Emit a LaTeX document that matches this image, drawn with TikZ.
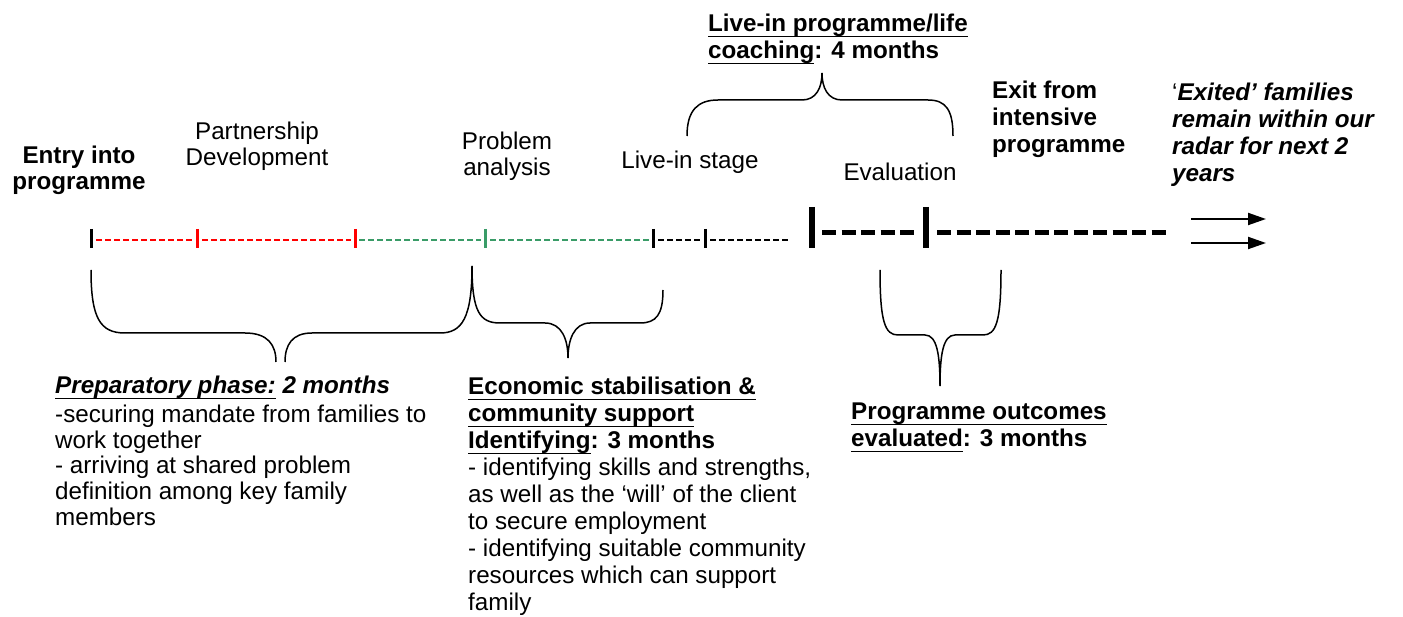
\documentclass[tikz,border=0pt]{standalone}
\usepackage{fontspec}
\setmainfont{Liberation Sans}
\usetikzlibrary{arrows.meta}
\definecolor{tlred}{RGB}{255,0,0}
\definecolor{tlgreen}{RGB}{58,156,104}
\newsavebox{\ulbox}
\newcommand{\myul}[1]{\sbox{\ulbox}{#1}\rlap{\rule[-5.5pt]{\wd\ulbox}{1.6pt}}\usebox{\ulbox}}
\begin{document}
\begin{tikzpicture}[x=1pt,y=-1pt,
 txt/.style={inner sep=0pt, anchor=north west, align=left, font=\fontsize{24.2}{27}\selectfont},
 ctxt/.style={inner sep=0pt, anchor=north, align=center, font=\fontsize{24.2}{26}\selectfont},
 thinline/.style={line width=2.5pt, dash pattern=on 6pt off 3pt},
 tickmark/.style={line width=3pt},
 thickline/.style={line width=5pt, dash pattern=on 14pt off 5.5pt},
 bigtick/.style={line width=5.5pt},
 brace/.style={line width=1.5pt},
 arr/.style={line width=2pt, -{Triangle[length=18pt,width=12pt]}}]
\useasboundingbox (0,0) rectangle (1403,617);

% ---------- timeline (thin part) ----------
\coordinate (t0) at (91,240);
\coordinate (t1) at (197,240);
\coordinate (t2) at (355,240);
\coordinate (t3) at (485,240);
\coordinate (t4) at (653,240);
\coordinate (t5) at (705,240);
\draw[tickmark] (91,229) -- (91,248);
\draw[tickmark,tlred] (197,229) -- (197,248);
\draw[tickmark,tlred] (355,229) -- (355,248);
\draw[tickmark,tlgreen] (485,229) -- (485,248);
\draw[tickmark] (653,229) -- (653,248);
\draw[tickmark] (705,229) -- (705,248);
\draw[thinline,tlred] (96,240) -- (193,240);
\draw[thinline,tlred] (202,240) -- (351,240);
\draw[thinline,tlgreen] (359,240) -- (481,240);
\draw[thinline,tlgreen] (490,240) -- (649,240);
\draw[thinline] (658,240) -- (701,240);
\draw[thinline] (710,240) -- (789,240);

% ---------- timeline (thick part) ----------
\draw[bigtick] (812,207) -- (812,248);
\draw[bigtick] (926,207) -- (926,248);
\draw[thickline] (822,233) -- (917,233);
\draw[thickline] (937,233) -- (1167,233);

% ---------- arrows ----------
\coordinate (a1s) at (1191,219);
\coordinate (a1e) at (1266,219);
\coordinate (a2s) at (1191,243);
\coordinate (a2e) at (1266,243);
\draw[arr] (a1s) -- (a1e);
\draw[arr] (a2s) -- (a2e);

% ---------- braces ----------
% preparatory phase
\draw[brace] (91,270) .. controls (91,318) and (100,333) .. (125,333) -- (245,333)
  .. controls (268,333) and (276,345) .. (276,362);
\draw[brace] (472,266) .. controls (472,318) and (462,333) .. (440,333) -- (312,333)
  .. controls (292,333) and (285,345) .. (285,362);
% economic stabilisation
\draw[brace] (472,266) .. controls (472,312) and (480,323) .. (500,323) -- (545,323)
  .. controls (562,323) and (568,340) .. (568,358);
\draw[brace] (663,290) .. controls (663,315) and (656,323) .. (640,323) -- (590,323)
  .. controls (574,323) and (568,340) .. (568,358);
% evaluation
\draw[brace] (880,270) .. controls (880,322) and (885,335) .. (898,335) -- (925,335)
  .. controls (937,335) and (940,355) .. (940,386);
\draw[brace] (1001,270) .. controls (1001,322) and (996,335) .. (983,335) -- (955,335)
  .. controls (943,335) and (940,355) .. (940,386);
% live-in programme (top)
\draw[brace] (687,136) .. controls (687,110) and (698,100) .. (718,100) -- (802,100)
  .. controls (816,100) and (822,88) .. (822,73);
\draw[brace] (953,136) .. controls (953,110) and (946,100) .. (928,100) -- (842,100)
  .. controls (828,100) and (822,88) .. (822,73);

% ---------- labels above timeline ----------
\node[ctxt] (entry) at (79,146) {\textbf{Entry into}\\\textbf{programme}};
\node[ctxt] (partner) at (257,122) {Partnership\\Development};
\node[ctxt] (problem) at (507,132) {Problem\\analysis};
\node[ctxt] (livein) at (690,151) {Live-in stage};
\node[ctxt] (eval) at (900,163) {Evaluation};
\node[txt] (liveprog) at (708,14) {\textbf{\myul{Live-in programme/life}}\\\textbf{\myul{coaching}: 4 months}};
\node[txt] (exit) at (992,81) {\textbf{Exit from}\\\textbf{intensive}\\\textbf{programme}};
\node[txt] (exited) at (1172,83) {‘\textbf{\textit{Exited’ families}}\\\textbf{\textit{remain within our}}\\\textbf{\textit{radar for next 2}}\\\textbf{\textit{years}}};

% ---------- labels below timeline ----------
\node[txt, font=\fontsize{24.2}{25.7}\selectfont] (prep) at (55,376)
  {\textbf{\textit{\myul{Preparatory phase:} 2 months}}\\[3pt]
   -securing mandate from families to\\work together\\- arriving at shared problem\\definition among key family\\members};
\node[txt] (econ) at (468,377)
  {\textbf{\myul{Economic stabilisation \&}}\\\textbf{\myul{community support}}\\\textbf{\myul{Identifying}: 3 months}\\
   - identifying skills and strengths,\\as well as the ‘will’ of the client\\to secure employment\\- identifying suitable community\\resources which can support\\family};
\node[txt] (outc) at (851,403)
  {\textbf{\myul{Programme outcomes}}\\\textbf{\myul{evaluated}: 3 months}};
\end{tikzpicture}
\end{document}
